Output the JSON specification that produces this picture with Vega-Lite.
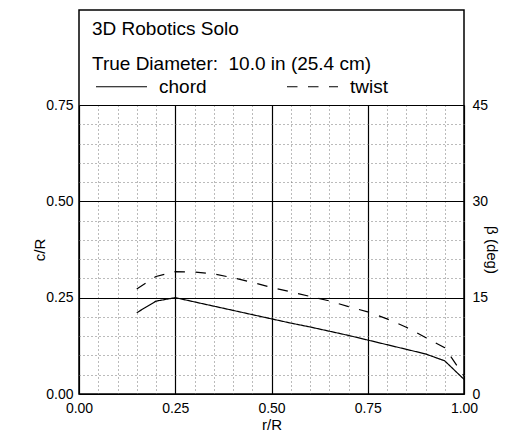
{
  "$schema": "https://vega.github.io/schema/vega-lite/v6.json",
  "width": 385,
  "height": 384,
  "autosize": {"type": "none"},
  "padding": {"left": 79, "top": 10, "right": 51, "bottom": 52},
  "background": "white",
  "config": {
    "font": "Liberation Sans",
    "view": {"stroke": "black", "strokeWidth": 1.5},
    "axis": {
      "labelColor": "black", "titleColor": "black", "labelFontSize": 14, "titleFontSize": 15,
      "titleFontWeight": "normal", "ticks": false, "domain": false, "labelFont": "Liberation Sans", "titleFont": "Liberation Sans"
    }
  },
  "data": {
    "values": [
      {"r": 0.15, "chord": 0.211, "twist": 16.35},
      {"r": 0.20, "chord": 0.241, "twist": 18.3},
      {"r": 0.25, "chord": 0.250, "twist": 19.05},
      {"r": 0.30, "chord": 0.239, "twist": 19.0},
      {"r": 0.35, "chord": 0.228, "twist": 18.7},
      {"r": 0.40, "chord": 0.217, "twist": 18.1},
      {"r": 0.45, "chord": 0.206, "twist": 17.4},
      {"r": 0.50, "chord": 0.195, "twist": 16.6},
      {"r": 0.55, "chord": 0.184, "twist": 15.9},
      {"r": 0.60, "chord": 0.174, "twist": 15.2},
      {"r": 0.65, "chord": 0.163, "twist": 14.5},
      {"r": 0.70, "chord": 0.152, "twist": 13.6},
      {"r": 0.75, "chord": 0.140, "twist": 12.8},
      {"r": 0.80, "chord": 0.128, "twist": 11.7},
      {"r": 0.85, "chord": 0.116, "twist": 10.4},
      {"r": 0.90, "chord": 0.104, "twist": 8.8},
      {"r": 0.95, "chord": 0.086, "twist": 7.2},
      {"r": 1.00, "chord": 0.038, "twist": 2.8}
    ]
  },
  "layer": [
    {
      "mark": {"type": "line", "color": "black", "strokeWidth": 1.2},
      "encoding": {
        "x": {
          "field": "r", "type": "quantitative",
          "scale": {"domain": [0, 1], "nice": false, "zero": false},
          "axis": {
            "title": null, "orient": "top", "labels": false,
            "values": [0,0.05,0.1,0.15,0.2,0.25,0.3,0.35,0.4,0.45,0.5,0.55,0.6,0.65,0.7,0.75,0.8,0.85,0.9,0.95,1],
            "grid": true,
            "gridColor": {"condition": {"test": "round(datum.value*100) % 25 == 0", "value": "black"}, "value": "#777777"},
            "gridDash": {"condition": {"test": "round(datum.value*100) % 25 == 0", "value": []}, "value": [1, 3]},
            "gridWidth": {"condition": {"test": "round(datum.value*100) % 25 == 0", "value": 1.2}, "value": 1}
          }
        },
        "y": {
          "field": "chord", "type": "quantitative",
          "scale": {"domain": [0, 0.75], "nice": false, "range": [384, 95]},
          "axis": {
            "title": "c/R", "orient": "left",
            "values": [0,0.05,0.1,0.15,0.2,0.25,0.3,0.35,0.4,0.45,0.5,0.55,0.6,0.65,0.7,0.75],
            "labelExpr": "round(datum.value*100) % 25 == 0 ? format(datum.value, '.2f') : ''",
            "labelPadding": 6, "titlePadding": -2, "labelFlush": false, "labelOverlap": false,
            "grid": true,
            "gridColor": {"condition": {"test": "round(datum.value*100) % 25 == 0", "value": "black"}, "value": "#777777"},
            "gridDash": {"condition": {"test": "round(datum.value*100) % 25 == 0", "value": []}, "value": [1, 3]},
            "gridWidth": {"condition": {"test": "round(datum.value*100) % 25 == 0", "value": 1.2}, "value": 1}
          }
        },
        "strokeDash": {
          "datum": "chord", "type": "nominal",
          "scale": {"domain": ["chord", "twist"], "range": [[1, 0], [10.5, 10.5]]},
          "legend": {
            "title": ["3D Robotics Solo", "True Diameter:\u00a0 10.0 in (25.4 cm)"],
            "orient": "none", "legendX": 0, "legendY": -3, "padding": 13,
            "direction": "horizontal",
            "titleFontSize": 19, "titleFontWeight": "normal", "titleColor": "black", "titleLineHeight": 35,
            "titlePadding": -14, "titleFont": "Liberation Sans", "titleLimit": 0,
            "labelFontSize": 19, "labelColor": "black", "labelFont": "Liberation Sans", "labelOffset": 11,
            "symbolType": "stroke", "symbolSize": 2601, "symbolStrokeWidth": 1.2, "symbolStrokeColor": "black",
            "symbolOffset": 3, "columnPadding": 76
          }
        }
      }
    },
    {
      "mark": {"type": "line", "color": "black", "strokeWidth": 1.2},
      "encoding": {
        "x": {
          "field": "r", "type": "quantitative",
          "axis": {
            "title": "r/R", "orient": "bottom",
            "values": [0, 0.25, 0.5, 0.75, 1],
            "format": ".2f",
            "labelPadding": 7, "titlePadding": 2, "labelFlush": false, "labelOverlap": false,
            "grid": false
          }
        },
        "y": {
          "field": "twist", "type": "quantitative",
          "scale": {"domain": [0, 45], "nice": false, "range": [384, 95]},
          "axis": {
            "title": "β (deg)", "orient": "right",
            "values": [0,15,30,45],
            "labelPadding": 8, "titlePadding": -4, "labelFlush": false, "labelOverlap": false,
            "grid": false
          }
        },
        "strokeDash": {"datum": "twist", "type": "nominal"}
      }
    }
  ],
  "resolve": {"scale": {"y": "independent"}, "axis": {"x": "independent"}}
}
